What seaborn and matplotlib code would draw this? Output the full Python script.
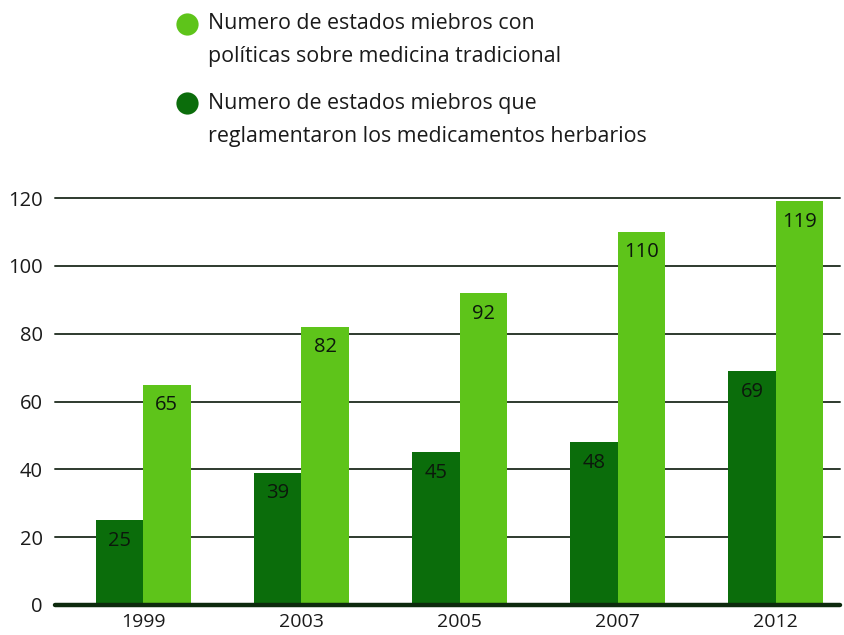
import matplotlib
matplotlib.use("Agg")
import matplotlib.pyplot as plt
from matplotlib.lines import Line2D
import seaborn as sns
import pandas as pd

years = ["1999", "2003", "2005", "2007", "2012"]
reglamentaron = [25, 39, 45, 48, 69]
politicas = [65, 82, 92, 110, 119]
label_politicas = "Numero de estados miebros con\npolíticas sobre medicina tradicional"
label_reglamentaron = "Numero de estados miebros que\nreglamentaron los medicamentos herbarios"
yticks = [0, 20, 40, 60, 80, 100, 120]

DARK = "#0b6d0b"
LIGHT = "#5ec41a"

df = pd.DataFrame({
    "year": years * 2,
    "series": ["reg"] * len(years) + ["pol"] * len(years),
    "value": reglamentaron + politicas,
})

sns.set_theme(style="white")
plt.rcParams["font.family"] = ["Open Sans", "DejaVu Sans"]

fig = plt.figure(figsize=(8.44, 6.35), dpi=100)
ax = fig.add_axes([55 / 844, 30 / 635, 785 / 844, 407 / 635])

sns.barplot(data=df, x="year", y="value", hue="series", hue_order=["reg", "pol"],
            palette={"reg": DARK, "pol": LIGHT}, width=0.6, saturation=1,
            legend=False, ax=ax, zorder=3, linewidth=0)

for c in ax.containers:
    ax.bar_label(c, padding=-22, fontsize=14.5, color="#0c180c", zorder=5)

ax.set_ylim(0, 120)
ax.set_xlim(-0.557, 4.405)
ax.set_yticks(yticks)
for y in yticks[1:]:
    ax.axhline(y, color="#2e3a2e", lw=1.4, zorder=1, clip_on=False)
ax.axhline(0, color="#0d2a0d", lw=3.2, zorder=6, clip_on=False)

for s in ax.spines.values():
    s.set_visible(False)
ax.set_xlabel("")
ax.set_ylabel("")
ax.tick_params(axis="y", length=0, pad=9, labelsize=14.5, labelcolor="#1a1a1a")
ax.tick_params(axis="x", length=0, pad=6, labelsize=14, labelcolor="#1a1a1a")
ax.grid(False)

# legend
fs = 15.4
for ycirc, ytext, col, lab in [(24, 40, LIGHT, label_politicas),
                               (103, 120, DARK, label_reglamentaron)]:
    fig.add_artist(Line2D([187 / 844], [1 - ycirc / 635], marker="o", markersize=16,
                          color=col, markeredgewidth=0, transform=fig.transFigure))
    fig.text(208 / 844, 1 - ytext / 635, lab, fontsize=fs, color="#1a1a1a",
             ha="left", va="center", linespacing=1.8)

fig.savefig("out.png", dpi=100)
